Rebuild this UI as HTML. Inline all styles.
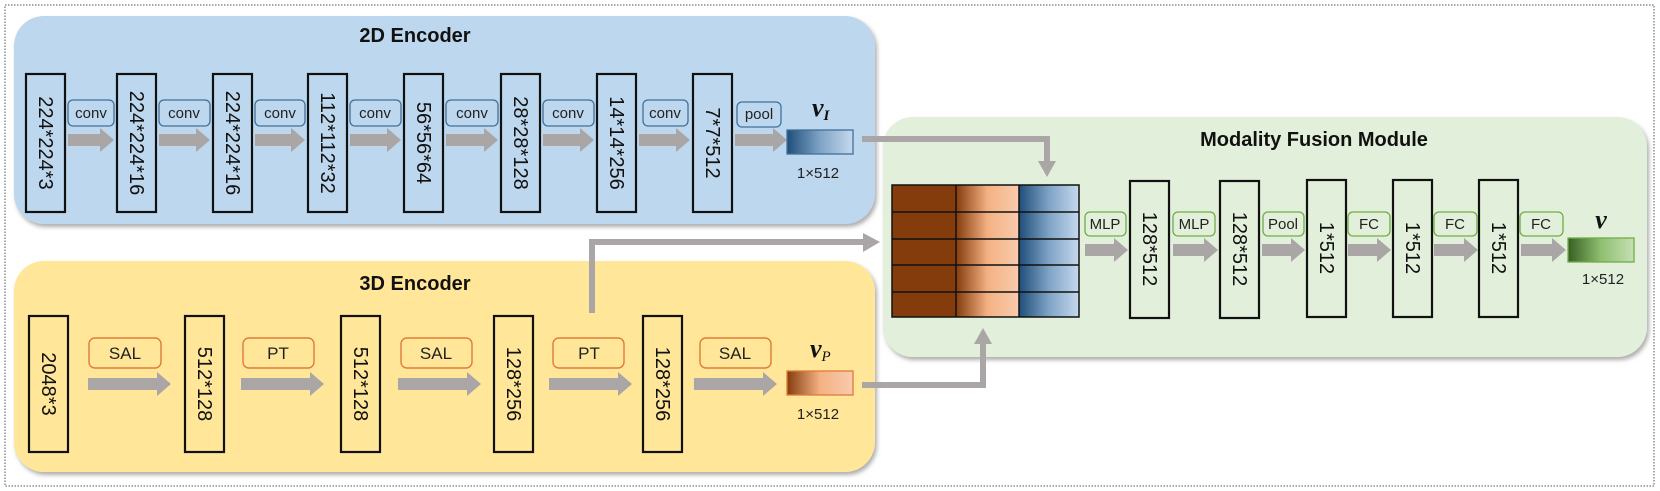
<!DOCTYPE html>
<html><head><meta charset="utf-8"><style>
html,body{margin:0;padding:0;background:#fff;}
svg{display:block;}
.blk{fill:none;stroke:#111;stroke-width:2.2;}
.bt{font-family:"Liberation Sans",sans-serif;font-size:20px;fill:#111;}
.lt{font-family:"Liberation Sans",sans-serif;fill:#222;}
.ttl{font-family:"Liberation Sans",sans-serif;font-weight:bold;font-size:20px;fill:#111;}
.ar{fill:#aaa6a6;}
.ln{fill:none;stroke:#aaa6a6;stroke-width:6;}
.mv{font-family:"Liberation Serif",serif;font-weight:bold;font-style:italic;fill:#111;}
</style></head><body>
<svg width="1660" height="491" viewBox="0 0 1660 491" xmlns="http://www.w3.org/2000/svg">
<defs>
<filter id="sh" x="-5%" y="-5%" width="110%" height="115%"><feDropShadow dx="2" dy="3" stdDeviation="2" flood-color="#777" flood-opacity="0.6"/></filter>
<linearGradient id="gb" x1="0" x2="1"><stop offset="0" stop-color="#1f4e79"/><stop offset="0.5" stop-color="#7fa3c6"/><stop offset="1" stop-color="#c5d9ee"/></linearGradient>
<linearGradient id="go" x1="0" x2="1"><stop offset="0" stop-color="#843c0c"/><stop offset="0.5" stop-color="#f4b183"/><stop offset="1" stop-color="#f8cbad"/></linearGradient>
<linearGradient id="gg" x1="0" x2="1"><stop offset="0" stop-color="#375f23"/><stop offset="0.5" stop-color="#8fbf70"/><stop offset="1" stop-color="#c5e0b4"/></linearGradient>
</defs>
<rect x="5" y="5" width="1649" height="481" fill="none" stroke="#555" stroke-width="1" stroke-dasharray="1.5 1.5"/>
<rect x="14" y="16" width="861" height="208" rx="30" fill="#bdd7ee" filter="url(#sh)"/>
<rect x="14" y="261" width="861" height="211" rx="30" fill="#ffe699" filter="url(#sh)"/>
<rect x="883" y="117" width="764" height="240" rx="30" fill="#e2efda" filter="url(#sh)"/>
<text class="ttl" x="415" y="42" text-anchor="middle">2D Encoder</text>
<text class="ttl" x="415" y="290" text-anchor="middle">3D Encoder</text>
<text class="ttl" x="1314" y="146" text-anchor="middle">Modality Fusion Module</text>

<!-- 2D blocks -->
<g>
<rect class="blk" x="26" y="74" width="39" height="138"/><text class="bt" transform="translate(39,143) rotate(90)" text-anchor="middle">224*224*3</text>
<rect class="blk" x="117" y="74" width="39" height="138"/><text class="bt" transform="translate(130,143) rotate(90)" text-anchor="middle">224*224*16</text>
<rect class="blk" x="213" y="74" width="39" height="138"/><text class="bt" transform="translate(226,143) rotate(90)" text-anchor="middle">224*224*16</text>
<rect class="blk" x="308" y="74" width="39" height="138"/><text class="bt" transform="translate(321,143) rotate(90)" text-anchor="middle">112*112*32</text>
<rect class="blk" x="404" y="74" width="39" height="138"/><text class="bt" transform="translate(417,143) rotate(90)" text-anchor="middle">56*56*64</text>
<rect class="blk" x="501" y="74" width="39" height="138"/><text class="bt" transform="translate(514,143) rotate(90)" text-anchor="middle">28*28*128</text>
<rect class="blk" x="597" y="74" width="39" height="138"/><text class="bt" transform="translate(610,143) rotate(90)" text-anchor="middle">14*14*256</text>
<rect class="blk" x="693" y="74" width="39" height="138"/><text class="bt" transform="translate(706,143) rotate(90)" text-anchor="middle">7*7*512</text>
</g>
<g fill="none" stroke="#41719c" stroke-width="1.3">
<rect x="68" y="100" width="46" height="26" rx="5"/>
<rect x="159" y="100" width="51" height="26" rx="5"/>
<rect x="255" y="100" width="50" height="26" rx="5"/>
<rect x="350" y="100" width="51" height="26" rx="5"/>
<rect x="446" y="100" width="52" height="26" rx="5"/>
<rect x="543" y="100" width="51" height="26" rx="5"/>
<rect x="643" y="100" width="45" height="26" rx="5"/>
<rect x="737" y="102" width="44" height="25" rx="5"/>
</g>
<g class="lt" font-size="15" text-anchor="middle">
<text x="91" y="118">conv</text><text x="184" y="118">conv</text><text x="280" y="118">conv</text><text x="375" y="118">conv</text><text x="472" y="118">conv</text><text x="568" y="118">conv</text><text x="665" y="118">conv</text><text x="759" y="119">pool</text>
</g>
<g class="ar">
<polygon points="68,134 100,134 100,128 114,140 100,152 100,146 68,146"/>
<polygon points="159,134 196,134 196,128 210,140 196,152 196,146 159,146"/>
<polygon points="255,134 291,134 291,128 305,140 291,152 291,146 255,146"/>
<polygon points="350,134 387,134 387,128 401,140 387,152 387,146 350,146"/>
<polygon points="446,134 484,134 484,128 498,140 484,152 484,146 446,146"/>
<polygon points="543,134 580,134 580,128 594,140 580,152 580,146 543,146"/>
<polygon points="639,134 676,134 676,128 690,140 676,152 676,146 639,146"/>
<polygon points="735,134 773,134 773,128 787,140 773,152 773,146 735,146"/>
</g>
<rect x="787" y="130" width="66" height="24" fill="url(#gb)" stroke="#41719c" stroke-width="1.3"/>
<text class="mv" x="812" y="116" font-size="26">v<tspan font-size="15" dy="4">I</tspan></text>
<text class="lt" x="818" y="178" font-size="15" text-anchor="middle">1×512</text>

<!-- 3D blocks -->
<g>
<rect class="blk" x="29" y="316" width="39" height="136"/><text class="bt" transform="translate(42,384) rotate(90)" text-anchor="middle">2048*3</text>
<rect class="blk" x="185" y="316" width="39" height="136"/><text class="bt" transform="translate(198,384) rotate(90)" text-anchor="middle">512*128</text>
<rect class="blk" x="341" y="316" width="39" height="136"/><text class="bt" transform="translate(354,384) rotate(90)" text-anchor="middle">512*128</text>
<rect class="blk" x="494" y="316" width="39" height="136"/><text class="bt" transform="translate(507,384) rotate(90)" text-anchor="middle">128*256</text>
<rect class="blk" x="643" y="316" width="39" height="136"/><text class="bt" transform="translate(656,384) rotate(90)" text-anchor="middle">128*256</text>
</g>
<g fill="none" stroke="#e07b39" stroke-width="1.4">
<rect x="89" y="338" width="72" height="30" rx="6"/>
<rect x="243" y="338" width="71" height="30" rx="6"/>
<rect x="401" y="338" width="71" height="30" rx="6"/>
<rect x="553" y="338" width="71" height="30" rx="6"/>
<rect x="700" y="338" width="71" height="30" rx="6"/>
</g>
<g class="lt" font-size="17" text-anchor="middle">
<text x="125" y="359">SAL</text><text x="278" y="359">PT</text><text x="436" y="359">SAL</text><text x="589" y="359">PT</text><text x="735" y="359">SAL</text>
</g>
<g class="ar">
<polygon points="88,378 157,378 157,372 171,384 157,396 157,390 88,390"/>
<polygon points="241,378 310,378 310,372 324,384 310,396 310,390 241,390"/>
<polygon points="398,378 467,378 467,372 481,384 467,396 467,390 398,390"/>
<polygon points="549,378 618,378 618,372 632,384 618,396 618,390 549,390"/>
<polygon points="694,378 763,378 763,372 777,384 763,396 763,390 694,390"/>
</g>
<rect x="787" y="371" width="66" height="24" fill="url(#go)" stroke="#e07b39" stroke-width="1.3"/>
<text class="mv" x="810" y="357" font-size="26">v<tspan font-size="15" dy="4" font-weight="normal">P</tspan></text>
<text class="lt" x="818" y="419" font-size="15" text-anchor="middle">1×512</text>

<!-- connectors -->
<polyline class="ln" points="862,139 1047,139 1047,162"/>
<polygon class="ar" points="1038,161 1056,161 1047,177"/>
<polyline class="ln" points="592,313 592,242 864,242"/>
<polygon class="ar" points="863,233 863,252 880,242"/>
<polyline class="ln" points="862,385 983,385 983,343"/>
<polygon class="ar" points="974,344 992,344 983,328"/>

<!-- grid -->
<rect x="892" y="185" width="64" height="132" fill="#843c0c"/>
<rect x="956" y="185" width="63" height="132" fill="url(#go)"/>
<rect x="1019" y="185" width="60" height="132" fill="url(#gb)"/>
<g stroke="#111" stroke-width="1.5" fill="none">
<rect x="892" y="185" width="187" height="132"/>
<line x1="956" y1="185" x2="956" y2="317"/><line x1="1019" y1="185" x2="1019" y2="317"/>
<line x1="892" y1="212" x2="1079" y2="212"/><line x1="892" y1="239" x2="1079" y2="239"/>
<line x1="892" y1="265" x2="1079" y2="265"/><line x1="892" y1="292" x2="1079" y2="292"/>
</g>

<!-- fusion -->
<g>
<rect class="blk" x="1130" y="181" width="39" height="137"/><text class="bt" transform="translate(1143,249) rotate(90)" text-anchor="middle">128*512</text>
<rect class="blk" x="1220" y="181" width="39" height="137"/><text class="bt" transform="translate(1233,249) rotate(90)" text-anchor="middle">128*512</text>
<rect class="blk" x="1307" y="180" width="39" height="137"/><text class="bt" transform="translate(1320,248) rotate(90)" text-anchor="middle">1*512</text>
<rect class="blk" x="1393" y="180" width="39" height="137"/><text class="bt" transform="translate(1406,248) rotate(90)" text-anchor="middle">1*512</text>
<rect class="blk" x="1479" y="180" width="39" height="137"/><text class="bt" transform="translate(1492,248) rotate(90)" text-anchor="middle">1*512</text>
</g>
<g fill="none" stroke="#70ad47" stroke-width="1.3">
<rect x="1085" y="212" width="41" height="24" rx="5"/>
<rect x="1173" y="212" width="42" height="24" rx="5"/>
<rect x="1263" y="212" width="41" height="24" rx="5"/>
<rect x="1348" y="212" width="42" height="24" rx="5"/>
<rect x="1434" y="212" width="43" height="24" rx="5"/>
<rect x="1520" y="212" width="43" height="24" rx="5"/>
</g>
<g class="lt" font-size="15" text-anchor="middle">
<text x="1105" y="229">MLP</text><text x="1194" y="229">MLP</text><text x="1283" y="229">Pool</text><text x="1369" y="229">FC</text><text x="1455" y="229">FC</text><text x="1541" y="229">FC</text>
</g>
<g class="ar">
<polygon points="1085,244 1114,244 1114,238 1128,250 1114,262 1114,256 1085,256"/>
<polygon points="1173,244 1204,244 1204,238 1218,250 1204,262 1204,256 1173,256"/>
<polygon points="1262,244 1291,244 1291,238 1305,250 1291,262 1291,256 1262,256"/>
<polygon points="1348,244 1377,244 1377,238 1391,250 1377,262 1377,256 1348,256"/>
<polygon points="1434,244 1464,244 1464,238 1478,250 1464,262 1464,256 1434,256"/>
<polygon points="1521,244 1552,244 1552,238 1566,250 1552,262 1552,256 1521,256"/>
</g>
<rect x="1568" y="238" width="66" height="24" fill="url(#gg)" stroke="#70ad47" stroke-width="1.3"/>
<text class="mv" x="1601" y="228" font-size="26" text-anchor="middle">v</text>
<text class="lt" x="1603" y="284" font-size="15" text-anchor="middle">1×512</text>
</svg>
</body></html>
